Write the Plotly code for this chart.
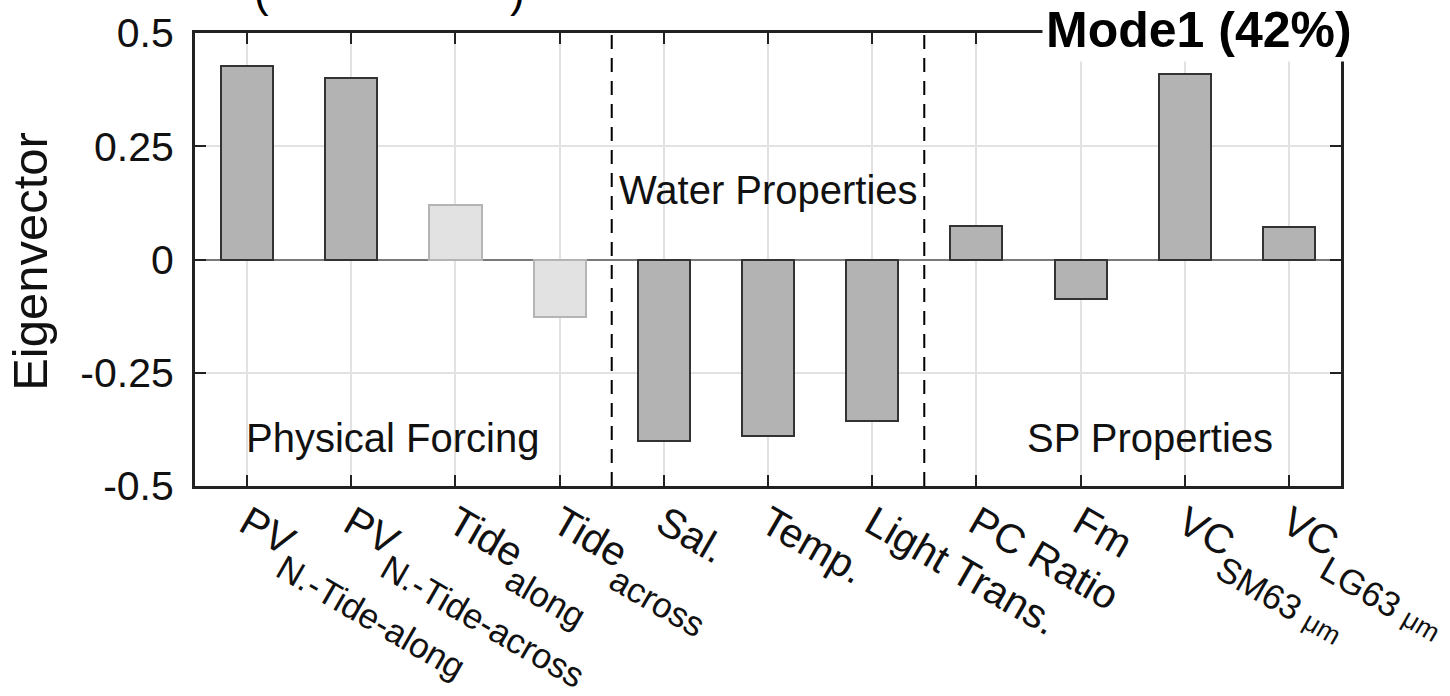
import plotly.graph_objects as go

# Mode 1 eigenvector loadings for each variable
categories = [
    "PV<sub>N.-Tide-along</sub>",
    "PV<sub>N.-Tide-across</sub>",
    "Tide<sub>along</sub>",
    "Tide<sub>across</sub>",
    "Sal.",
    "Temp.",
    "Light Trans.",
    "PC Ratio",
    "Fm",
    "VC<sub>SM63 μm</sub>",
    "VC<sub>LG63 μm</sub>",
]
loadings = [0.427, 0.400, 0.120, -0.128, -0.400, -0.389, -0.356, 0.075, -0.088, 0.410, 0.072]
# variables shown in a lighter shade
muted = [False, False, True, True, False, False, False, False, False, False, False]

groups = ["Physical Forcing", "Water Properties", "SP Properties"]
group_sizes = [4, 3, 4]

y_ticks = [-0.5, -0.25, 0, 0.25, 0.5]
y_tick_text = ["-0.5", "-0.25", "0", "0.25", "0.5"]

title_text = "Mode1 (42%)"
y_label = "Eigenvector"

FONT = "Liberation Sans, Arial, Helvetica, sans-serif"
INK = "#111111"


def fmt_label(lbl):
    # larger, deeper subscripts; the micrometre unit a little smaller still
    lbl = lbl.replace("μm", '<span style="font-size:27px">μm</span>')
    return lbl.replace(
        "<sub>", '<span style="font-size:35px;baseline-shift:-21px">'
    ).replace("</sub>", "</span>")


x_pos = list(range(len(categories)))
fill = ["#e2e2e2" if m else "#b3b3b3" for m in muted]
edge = ["#b4b4b4" if m else "#333333" for m in muted]

fig = go.Figure()
fig.add_trace(
    go.Bar(
        x=x_pos,
        y=loadings,
        width=0.5,
        marker=dict(color=fill, line=dict(color=edge, width=2)),
        showlegend=False,
        hoverinfo="skip",
    )
)

# dashed separators between variable groups
shapes = []
edge_pos = -0.5
for size in group_sizes[:-1]:
    edge_pos += size
    shapes.append(
        dict(
            type="line", xref="x", yref="paper", x0=edge_pos, x1=edge_pos, y0=0, y1=1,
            line=dict(color="#000000", width=2, dash="14px,9px"),
        )
    )

annotations = [
    dict(x=1.4, y=-0.395, xref="x", yref="y", text=groups[0], showarrow=False,
         font=dict(family=FONT, size=40, color=INK), xanchor="center", yanchor="middle"),
    dict(x=3.55, y=0.153, xref="x", yref="y", text=groups[1], showarrow=False,
         font=dict(family=FONT, size=40, color=INK), xanchor="left", yanchor="middle"),
    dict(x=8.67, y=-0.395, xref="x", yref="y", text=groups[2], showarrow=False,
         font=dict(family=FONT, size=40, color=INK), xanchor="center", yanchor="middle"),
    dict(x=0.876, y=1.0066, xref="paper", yref="paper", text="<b>" + title_text + "</b>",
         showarrow=False, font=dict(family=FONT, size=50, color="#000000"),
         bgcolor="#ffffff", borderpad=3, xanchor="center", yanchor="middle"),
    dict(x=-0.144, y=0.497, xref="paper", yref="paper", text=y_label, textangle=-90,
         showarrow=False, font=dict(family=FONT, size=49, color=INK),
         xanchor="center", yanchor="middle"),
    # lower edge of a heading line above the panel
    dict(x=0.058, y=1.0925, xref="paper", yref="paper", text="(", showarrow=False,
         font=dict(family=FONT, size=44, color="#000000"), xanchor="center", yanchor="middle"),
    dict(x=0.281, y=1.0925, xref="paper", yref="paper", text=")", showarrow=False,
         font=dict(family=FONT, size=44, color="#000000"), xanchor="center", yanchor="middle"),
]

fig.update_layout(
    width=1450,
    height=696,
    margin=dict(l=195, r=109, t=33, b=210, autoexpand=False),
    paper_bgcolor="#ffffff",
    plot_bgcolor="#ffffff",
    bargap=0,
    shapes=shapes,
    annotations=annotations,
    font=dict(family=FONT, color=INK),
)

fig.update_xaxes(
    range=[-0.5, len(categories) - 0.5],
    tickmode="array",
    tickvals=x_pos,
    ticktext=[fmt_label(c) for c in categories],
    tickangle=30,
    tickfont=dict(family=FONT, size=41, color=INK),
    ticks="inside",
    ticklen=11,
    tickwidth=2,
    tickcolor="#222222",
    showline=True,
    linecolor="#222222",
    linewidth=3,
    mirror="ticks",
    showgrid=True,
    gridcolor="#e2e2e2",
    gridwidth=2,
    zeroline=False,
    automargin=False,
    ticklabeloverflow="allow",
    ticklabelstandoff=-6,
)
fig.update_yaxes(
    range=[-0.5, 0.5],
    tickmode="array",
    tickvals=y_ticks,
    ticktext=y_tick_text,
    tickfont=dict(family=FONT, size=41, color=INK),
    ticks="inside",
    ticklen=11,
    tickwidth=2,
    tickcolor="#222222",
    showline=True,
    linecolor="#222222",
    linewidth=3,
    mirror="ticks",
    showgrid=True,
    gridcolor="#e2e2e2",
    gridwidth=2,
    zeroline=True,
    zerolinecolor="#7a7a7a",
    zerolinewidth=2,
    automargin=False,
    ticklabelstandoff=10,
)

fig.write_html("out.html")
